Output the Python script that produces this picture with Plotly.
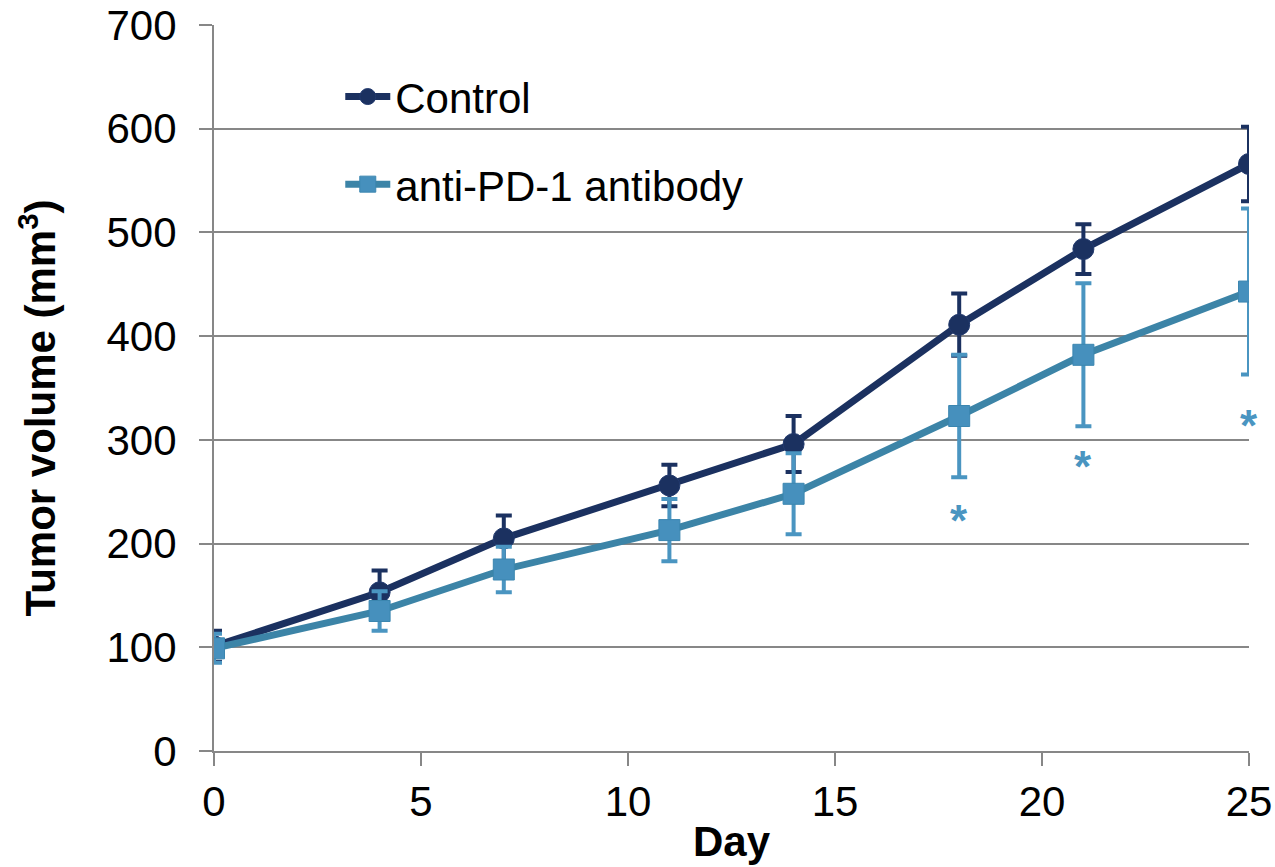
import plotly.graph_objects as go

days = [0, 4, 7, 11, 14, 18, 21, 25]
control = [101, 153, 205, 256, 296, 411, 484, 566]
control_err = [15, 21, 22, 20, 27, 30, 24, 36]
anti = [99, 135, 175, 213, 248, 323, 382, 443]
anti_err = [14, 19, 22, 30, 39, 59, 69, 80]
sig_days = [18, 21, 25]
sig_y = [222, 274, 314]
x_ticks = [0, 5, 10, 15, 20, 25]
y_ticks = [0, 100, 200, 300, 400, 500, 600, 700]

NAVY = "#1b3160"
TEAL_LINE = "#3c84a7"
TEAL_MARK = "#4690bd"
TEAL_ERR = "#4a95c1"
FONT = "Liberation Sans, Arial, sans-serif"
FS = 42

fig = go.Figure()
fig.add_trace(go.Scatter(
    x=days, y=control, name="Control", mode="lines+markers",
    legendgroup="a",
    line=dict(color=NAVY, width=7),
    marker=dict(symbol="circle", size=21, color=NAVY, line=dict(color="#223a6e", width=1)),
    error_y=dict(type="data", array=control_err, visible=True, color=NAVY, thickness=4, width=8),
))
fig.add_trace(go.Scatter(
    x=days, y=anti, name="anti-PD-1 antibody", mode="lines+markers",
    legendgroup="b",
    line=dict(color=TEAL_LINE, width=7),
    marker=dict(symbol="square", size=21, color=TEAL_MARK, line=dict(color="#3b86b0", width=1)),
    error_y=dict(type="data", array=anti_err, visible=True, color=TEAL_ERR, thickness=4, width=8),
))

for d, yv in zip(sig_days, sig_y):
    fig.add_annotation(x=d, y=yv, text="<b>*</b>", showarrow=False,
                       font=dict(family=FONT, size=44, color=TEAL_ERR),
                       xanchor="center", yanchor="middle")

# y-axis title as a rotated annotation (matches the reference's offset placement)
fig.add_annotation(xref="paper", yref="paper", x=-0.170, y=0.472,
                   text="<b>Tumor volume (mm<sup>3</sup>)</b>", textangle=-90,
                   showarrow=False, xanchor="center", yanchor="middle",
                   font=dict(family=FONT, size=FS, color="black"))

fig.update_layout(
    width=1275, height=867,
    margin=dict(l=214, r=26, t=25, b=116, autoexpand=False),
    paper_bgcolor="white", plot_bgcolor="white",
    font=dict(family=FONT, size=FS, color="black"),
    showlegend=True,
    legend=dict(x=0.122, y=0.948, xanchor="left", yanchor="top",
                bgcolor="rgba(0,0,0,0)", font=dict(size=FS, family=FONT),
                tracegroupgap=30, traceorder="grouped", itemwidth=45),
)
fig.update_xaxes(
    range=[0, 25], tickvals=x_ticks, ticktext=[str(v) for v in x_ticks],
    showgrid=False, zeroline=False, automargin=False,
    showline=True, linecolor="#878787", linewidth=2,
    ticks="outside", ticklen=13, tickwidth=2, tickcolor="#878787",
    tickfont=dict(size=FS, family=FONT, color="black"),
    title=dict(text="<b>Day</b>", font=dict(size=FS, family=FONT), standoff=2),
)
fig.update_yaxes(
    range=[0, 700], tickvals=y_ticks, ticktext=[str(v) for v in y_ticks],
    showgrid=True, gridcolor="#878787", gridwidth=2, zeroline=False, automargin=False,
    showline=True, linecolor="#878787", linewidth=2,
    ticks="outside", ticklen=13, tickwidth=2, tickcolor="#878787",
    ticklabelstandoff=14,
    tickfont=dict(size=FS, family=FONT, color="black"),
)

fig.write_html("out.html", config={"displayModeBar": False},
               post_script="document.body.style.margin='0';")
